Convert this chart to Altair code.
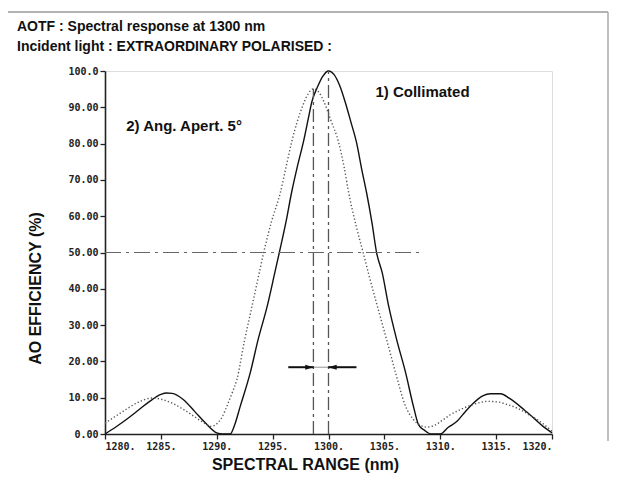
import altair as alt
import pandas as pd

# ---- data ----
solid_nm = [1280, 1281, 1282, 1283, 1284, 1285, 1285.5, 1286, 1287, 1288, 1289, 1290, 1290.5,
            1291.2, 1291.6, 1292.1, 1293, 1293.7, 1294.5, 1295.2, 1295.6, 1296.2, 1296.7, 1297.2,
            1297.75, 1298.2, 1298.5, 1299, 1299.5, 1300, 1300.5, 1301, 1301.5, 1302, 1302.5, 1303,
            1303.4, 1303.9, 1304.3, 1304.8, 1305.4, 1306.1, 1306.9, 1307.6, 1308.05, 1308.6, 1309.2,
            1310, 1310.7, 1311.5, 1312.2, 1313, 1313.8, 1314.5, 1315.4, 1316.2, 1317.5, 1318.4,
            1319.2, 1320]
solid_eff = [0, 2.0, 4.2, 6.6, 9.0, 10.9, 11.3, 11.2, 9.5, 6.3, 3.0, 0.3, 0,
             0, 2.5, 7.6, 16.9, 26, 35, 44.5, 50, 58.5, 66.6, 73.5,
             80.4, 87.0, 91.4, 95.5, 98.6, 100, 99, 96, 91.4, 86, 80.4, 72.5,
             66.6, 58, 50, 44.5, 35, 26, 16.9, 7.6, 2.6, 1.0, 0,
             0, 1.8, 3.5, 6.0, 8.6, 10.5, 11.1, 11.1, 9.8, 6.7, 4.3,
             2.1, 0.3]

dotted_nm = [1280, 1281, 1282, 1283, 1284.2, 1285, 1286, 1287, 1288, 1289, 1289.5, 1290, 1290.5,
             1290.9, 1291.4, 1291.8, 1292.5, 1293, 1293.6, 1294.2, 1294.9, 1295.7, 1296.2, 1296.7,
             1297.2, 1297.7, 1298.2, 1298.65, 1299.1, 1299.6, 1300.2, 1300.9, 1301.4, 1301.8,
             1302.5, 1303.1, 1303.6, 1304.3, 1305.2, 1306, 1306.9, 1307.6, 1308.2, 1308.8, 1309.5,
             1310.2, 1310.9, 1312, 1313, 1314.3, 1315.2, 1316, 1316.9, 1318, 1318.9, 1320]
dotted_eff = [3.0, 5.0, 7.0, 8.8, 9.9, 9.6, 8.5, 6.8, 4.8, 2.8, 2.1, 2.8, 4.8,
              7.6, 11.5, 15, 26, 33, 41.5, 50, 58.5, 66.6, 73.5, 80.4,
              86, 90.5, 93.8, 95.1, 94.3, 91.5, 86.5, 80.4, 73.5, 66.6,
              57, 50, 44, 36, 26, 16.9, 7.6, 4.0, 2.4, 1.9, 2.4,
              3.8, 5.3, 7.0, 8.2, 9.0, 8.8, 8.1, 7.1, 5.2, 3.5, 0.8]

x_ticks = [1280, 1285, 1290, 1295, 1300, 1305, 1310, 1315, 1320]
y_ticks = [0, 10, 20, 30, 40, 50, 60, 70, 80, 90, 100]

title_line1 = "AOTF : Spectral response at 1300 nm"
title_line2 = "Incident light : EXTRAORDINARY POLARISED :"
x_title = "SPECTRAL RANGE (nm)"
y_title = "AO EFFICIENCY (%)"

label_text = ["1) Collimated", "2) Ang. Apert. 5°"]
label_nm = [1304.2, 1281.9]
label_eff = [94.3, 84.9]

half_level = 50
half_end_nm = 1308.2
peak_nm = [1298.65, 1300]
peak_eff = [95.1, 100]
arrow_level = 18.4
arrow_start = [1296.4, 1302.5]

# ---- tables ----
solid_df = pd.DataFrame({"nm": solid_nm, "eff": solid_eff})
dotted_df = pd.DataFrame({"nm": dotted_nm, "eff": dotted_eff})
labels_df = pd.DataFrame({"t": label_text, "nm": label_nm, "eff": label_eff})
half_df = pd.DataFrame({"nm": [x_ticks[0]], "nm2": [half_end_nm], "eff": [half_level]})
vline_df = pd.DataFrame({"nm": peak_nm, "eff": [0, 0], "eff2": peak_eff})
shaft_df = pd.DataFrame({"nm": arrow_start, "nm2": peak_nm, "eff": [arrow_level] * 2})
link_df = pd.DataFrame({"nm": [peak_nm[0]], "nm2": [peak_nm[1]], "eff": [arrow_level]})
headR_df = pd.DataFrame({"nm": [peak_nm[0]], "eff": [arrow_level]})
headL_df = pd.DataFrame({"nm": [peak_nm[1]], "eff": [arrow_level]})
t1_df = pd.DataFrame({"t": [title_line1]})
t2_df = pd.DataFrame({"t": [title_line2]})
one_df = pd.DataFrame({"a": [0]})

FONT = "Liberation Sans"
MONO = "DejaVu Sans Mono"

x_scale = alt.Scale(domain=[1280, 1320], nice=False, zero=False)
y_scale = alt.Scale(domain=[0, 100], nice=False)

x_axis = alt.Axis(values=x_ticks, labelExpr="datum.value + '.'", title=x_title,
                  grid=False, domainColor="#222", domainWidth=1.6, tickColor="#222",
                  tickSize=5, tickWidth=1.3, labelFont=MONO, labelFontSize=10,
                  labelFontWeight="bold", labelColor="#222", labelPadding=2,
                  labelOverlap=False,
                  titleFont=FONT, titleFontSize=16, titleFontWeight="bold", titleColor="#111",
                  titleX=200, titleY=30, titleAlign="center", titleBaseline="middle")
y_axis = alt.Axis(values=y_ticks,
                  labelExpr="datum.value == 100 ? '100.0' : format(datum.value, '.2f')",
                  title=y_title, grid=False, domainColor="#222", domainWidth=1.6,
                  tickColor="#222", tickSize=5, tickWidth=1.3, labelFont=MONO,
                  labelFontSize=10, labelFontWeight="bold", labelColor="#222", labelPadding=2,
                  labelOverlap=False,
                  titleFont=FONT, titleFontSize=16, titleFontWeight="bold", titleColor="#111",
                  titleX=-70, titleY=217, titleAlign="center", titleBaseline="middle",
                  titleAngle=270)

X = alt.X("nm:Q", scale=x_scale, axis=x_axis)
Y = alt.Y("eff:Q", scale=y_scale, axis=y_axis)

solid = alt.Chart(solid_df).mark_line(color="#111", strokeWidth=1.4,
                                      interpolate="monotone").encode(x=X, y=Y)
dotted = alt.Chart(dotted_df).mark_line(color="#555", strokeWidth=1.4, strokeDash=[1.3, 2.2],
                                        interpolate="monotone").encode(x=X, y=Y)

half = alt.Chart(half_df).mark_rule(color="#666", strokeWidth=1.2,
                                    strokeDash=[16, 5, 3, 5]).encode(
    x=X, x2="nm2:Q", y=Y)
vlines = alt.Chart(vline_df).mark_rule(color="#555", strokeWidth=1.3,
                                       strokeDash=[13, 4, 3, 4]).encode(
    x=X, y=Y, y2="eff2:Q")
link = alt.Chart(link_df).mark_rule(color="#777", strokeWidth=0.8).encode(
    x=X, x2="nm2:Q", y=Y)
shaft = alt.Chart(shaft_df).mark_rule(color="#111", strokeWidth=2).encode(
    x=X, x2="nm2:Q", y=Y)
headR = alt.Chart(headR_df).mark_point(shape="M1,0 L-1,-0.6 L-1,0.6 Z", filled=True,
                                       color="#111", size=70, opacity=1, xOffset=-4).encode(
    x=X, y=Y)
headL = alt.Chart(headL_df).mark_point(shape="M-1,0 L1,-0.6 L1,0.6 Z", filled=True,
                                       color="#111", size=70, opacity=1, xOffset=4).encode(
    x=X, y=Y)

labels = alt.Chart(labels_df).mark_text(align="left", baseline="middle", font=FONT,
                                        fontSize=15, fontWeight="bold", color="#111").encode(
    x=X, y=Y, text="t:N")

# chart heading, two lines at the top-left of the page
head1 = alt.Chart(t1_df).mark_text(align="left", baseline="middle", font=FONT, fontSize=14,
                                   fontWeight="bold", color="#111").encode(
    x=alt.value(-88), y=alt.value(-44), text="t:N")
head2 = alt.Chart(t2_df).mark_text(align="left", baseline="middle", font=FONT, fontSize=14,
                                   fontWeight="bold", color="#111").encode(
    x=alt.value(-88), y=alt.value(-24), text="t:N")

# page frame (decoration of the scanned page)
frame_top = alt.Chart(one_df).mark_rule(color="#999", strokeWidth=1.5).encode(
    x=alt.value(-98), x2=alt.value(503), y=alt.value(-59))
frame_left = alt.Chart(one_df).mark_rule(color="#999", strokeWidth=1.5).encode(
    x=alt.value(-98), y=alt.value(-59), y2=alt.value(400))
frame_right = alt.Chart(one_df).mark_rule(color="#aaa", strokeWidth=1.5).encode(
    x=alt.value(503), y=alt.value(-59), y2=alt.value(370))

chart = alt.layer(
    solid, dotted, half, vlines, link, shaft, headR, headL, labels,
    frame_top, frame_left, frame_right, head1, head2
).properties(
    width=447, height=363,
    autosize=alt.AutoSizeParams(type="none"),
    padding={"left": 97, "top": 63, "right": 57, "bottom": 40},
).configure_view(stroke=None).configure(background="white")

chart.save("out.html", embed_options={"renderer": "svg", "actions": False})
